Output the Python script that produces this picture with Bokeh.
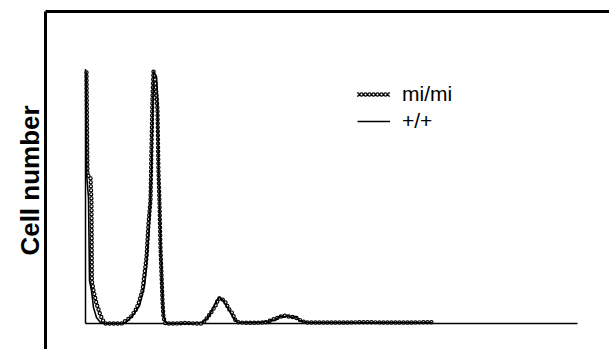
from bokeh.plotting import figure
from bokeh.models import Legend, LegendItem, FixedTicker
from bokeh.embed import file_html
from bokeh.resources import INLINE

# DNA-content style histogram: channel (x) vs cell number (y)
mimi_x = [0.5, 1, 2.5, 3, 3.2, 4, 5.5, 7.5, 9, 10, 14, 18, 19, 22.5, 25, 26.5, 28.5, 29.5, 30.5, 31.5,
          32.5, 33, 33.5, 34, 35, 36, 36.5, 37, 37.5, 38.5, 39, 40, 45, 50, 55, 58, 59, 62.5, 65, 66.5,
          68, 70, 71.5, 73.5, 75, 76.5, 80, 85, 90, 92.5, 96.5, 99, 101.5, 105, 107.5, 110, 120, 130, 140, 150,
          160, 173.5]
mimi_y = [99.6, 58.7, 58.3, 48.8, 17, 13.1, 7.9, 3.2, 0.8, 0, 0, 0, 0.5, 2.4, 5.2, 7.9, 13.1, 19.8, 26.2, 39.7,
          48.8, 70, 90, 100, 96, 85, 60, 48, 30, 9, 2.4, 0, 0, 0.2, 0, 0, 0.4, 4, 7.1, 9.9,
          10, 8.3, 6, 4, 1.2, 0.4, 0.3, 0.3, 0.4, 1.2, 2.4, 3.2, 2.8, 2.4, 1.2, 0.4, 0.4, 0.4, 0.5, 0.4,
          0.4, 0.5]

wt_x = [0.3, 0.6, 1.5, 2, 3, 4, 5.5, 7.5, 9, 14, 19, 21, 24, 27, 29.5, 30.5, 32, 33, 33.5, 34,
        35.5, 36, 36.5, 37, 37.5, 38.5, 39, 40, 41, 50, 58, 61, 63, 65.5, 67, 68.5, 70, 72, 74, 76,
        80, 88, 90, 91, 93, 95, 97, 99, 101, 103, 105, 107, 109, 112, 130, 150, 173.5]
wt_y = [100, 58.7, 50, 17, 13, 6.3, 2.4, 0.4, 0, 0, 0, 1, 3.5, 7, 15, 22, 40, 60, 80, 100,
        98, 90, 62, 50, 32, 10, 3, 0.4, 0, 0, 0.3, 2, 5, 9, 10.5, 9.5, 7.5, 5, 2, 0.5,
        0.3, 0.4, 1.0, 0.2, 1.5, 1.2, 3.0, 2.5, 3.2, 2.4, 2.8, 1.2, 0.6, 0.3, 0.3, 0.3, 0.3]

series_labels = ["mi/mi", "+/+"]
y_title = "Cell number"

# inner axis extent (data units)
X_AXIS_END = 246
Y_AXIS_TOP = 101

p = figure(width=609, height=349, output_backend="svg", toolbar_location=None,
           x_range=(-20, 262), y_range=(-10.32, 123.81),
           x_axis_location="above", y_axis_location="left",
           min_border_left=45, min_border_top=11, min_border_right=0, min_border_bottom=0)
p.outline_line_color = None
p.xgrid.visible = False
p.ygrid.visible = False
p.background_fill_color = "white"
p.border_fill_color = "white"

for ax in (p.xaxis[0], p.yaxis[0]):
    ax.ticker = FixedTicker(ticks=[])
    ax.major_tick_line_color = None
    ax.minor_tick_line_color = None
    ax.major_tick_out = 0
    ax.major_tick_in = 0
    ax.major_label_standoff = 0
    ax.major_label_text_font_size = "0px"
    ax.axis_line_color = "black"
    ax.axis_line_width = 3

p.yaxis.axis_label = y_title
p.yaxis.axis_label_text_font = "Liberation Sans"
p.yaxis.axis_label_text_font_style = "bold"
p.yaxis.axis_label_text_font_size = "26px"
p.yaxis.axis_label_text_color = "black"
p.yaxis.axis_label_standoff = 1

# inner axes
p.segment(x0=[0, 0], y0=[0, 0], x1=[0, X_AXIS_END], y1=[Y_AXIS_TOP, 0],
          line_color="black", line_width=1.5)

# mi/mi: line of open round dots
r_dots = p.line(mimi_x, mimi_y, line_color="black", line_width=4.4, line_dash="0 4", line_cap="round")
r_dots_in = p.line(mimi_x, mimi_y, line_color="white", line_width=2.0, line_dash="0 4", line_cap="round")
# +/+: solid line
r_wt = p.line(wt_x, wt_y, line_color="black", line_width=1.6)

legend = Legend(items=[LegendItem(label=series_labels[0], renderers=[r_dots, r_dots_in]),
                       LegendItem(label=series_labels[1], renderers=[r_wt])],
                location=(312, 216), glyph_width=33, glyph_height=20, label_height=20,
                label_standoff=12, spacing=3, padding=0, margin=0,
                border_line_color=None, background_fill_alpha=0,
                label_text_font="Liberation Sans", label_text_font_size="21px",
                label_text_color="black")
p.add_layout(legend)

open("out.html", "w").write(file_html(p, INLINE))
